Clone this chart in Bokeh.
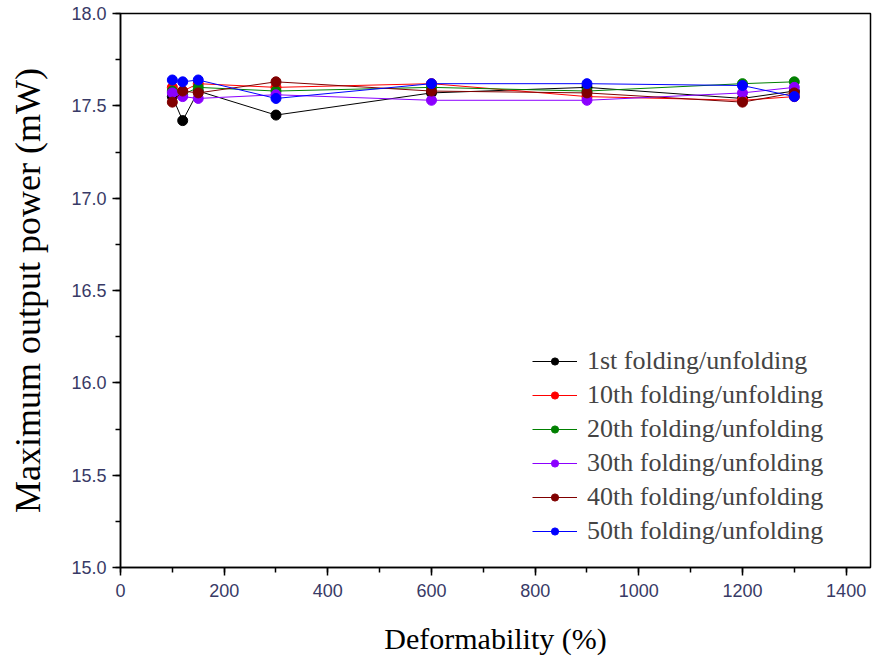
from bokeh.plotting import figure
from bokeh.embed import file_html
from bokeh.resources import INLINE
from bokeh.models import Range1d, Legend, LegendItem, SingleIntervalTicker, PrintfTickFormatter

deformability = [100, 120, 150, 300, 600, 900, 1200, 1300]
series_names = ["1st folding/unfolding", "10th folding/unfolding", "20th folding/unfolding",
                "30th folding/unfolding", "40th folding/unfolding", "50th folding/unfolding"]
p1 = [17.55, 17.42, 17.58, 17.45, 17.57, 17.60, 17.54, 17.58]
p10 = [17.60, 17.58, 17.62, 17.60, 17.62, 17.55, 17.53, 17.55]
p20 = [17.58, 17.56, 17.60, 17.58, 17.60, 17.58, 17.62, 17.63]
p30 = [17.57, 17.55, 17.54, 17.56, 17.53, 17.53, 17.57, 17.60]
p40 = [17.52, 17.58, 17.57, 17.63, 17.58, 17.57, 17.52, 17.57]
p50 = [17.64, 17.63, 17.64, 17.54, 17.62, 17.62, 17.61, 17.55]
colors = ["black", "red", "green", "#8b00ff", "#800000", "blue"]

p = figure(width=873, height=664, output_backend="svg", toolbar_location=None,
           x_range=Range1d(0, 1447), y_range=Range1d(15.0, 18.0),
           min_border_left=120, min_border_right=3, min_border_top=13, min_border_bottom=97)
p.grid.visible = False
p.outline_line_color = "black"
p.outline_line_width = 1.5
p.background_fill_color = "white"
p.border_fill_color = "white"

items = []
for name, ys, c in zip(series_names, [p1, p10, p20, p30, p40, p50], colors):
    l = p.line(deformability, ys, line_color=c, line_width=1)
    s = p.scatter(deformability, ys, size=10, fill_color=c, line_color=c)
    items.append(LegendItem(label=name, renderers=[l, s]))

legend = Legend(items=items, location=(412, 19), margin=0, padding=0, spacing=0,
                glyph_width=45, glyph_height=18, label_height=34, label_standoff=10,
                label_text_font="Liberation Serif", label_text_font_size="26px",
                border_line_color=None, background_fill_alpha=0)
p.add_layout(legend, "center")

p.xaxis.ticker = SingleIntervalTicker(interval=200, num_minor_ticks=2)
p.yaxis.ticker = SingleIntervalTicker(interval=0.5, num_minor_ticks=2)
p.yaxis.formatter = PrintfTickFormatter(format="%.1f")

for ax in (p.xaxis, p.yaxis):
    ax.axis_line_color = "black"
    ax.axis_line_width = 1.5
    ax.major_tick_line_color = "black"
    ax.minor_tick_line_color = "black"
    ax.major_tick_line_width = 1.5
    ax.minor_tick_line_width = 1.5
    ax.major_tick_out = 8
    ax.major_tick_in = 0
    ax.minor_tick_out = 5
    ax.minor_tick_in = 0
    ax.major_label_text_font = "Liberation Sans"
    ax.major_label_text_font_size = "18px"
    ax.major_label_text_color = "#383a66"
    ax.axis_label_text_font = "Liberation Serif"
    ax.axis_label_text_font_style = "normal"
    ax.axis_label_text_color = "black"

p.xaxis.axis_label = "Deformability (%)"
p.xaxis.axis_label_text_font_size = "30px"
p.xaxis.major_label_standoff = 8
p.xaxis.axis_label_standoff = 22
p.yaxis.axis_label = "Maximum output power (mW)"
p.yaxis.axis_label_text_font_size = "36px"
p.yaxis.major_label_standoff = 6
p.yaxis.axis_label_standoff = 20

open("out.html", "w").write(file_html(p, INLINE))
